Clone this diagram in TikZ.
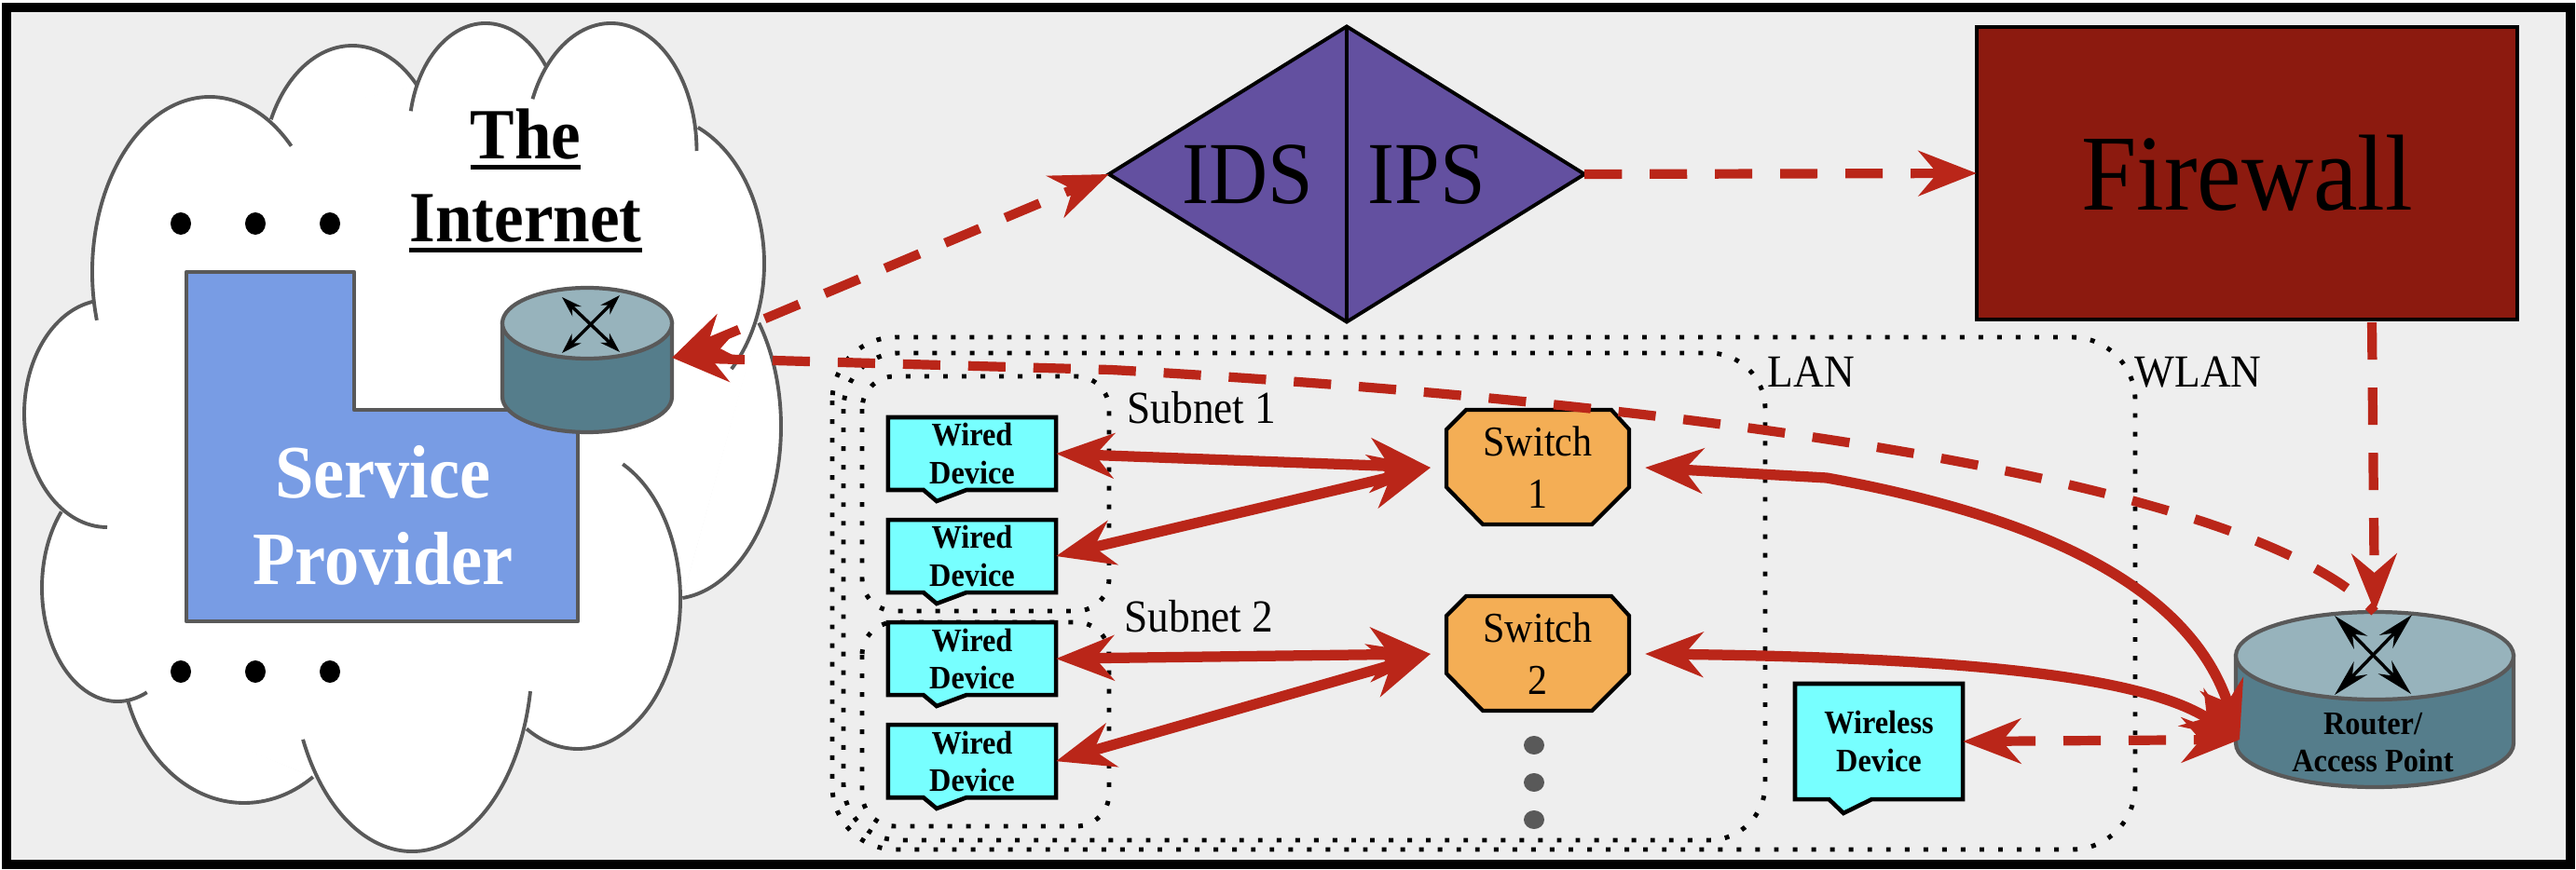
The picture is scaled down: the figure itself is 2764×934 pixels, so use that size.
\documentclass[tikz,border=0pt]{standalone}
\usepackage{fontspec}
\usepackage{tikz}
\usetikzlibrary{arrows.meta,positioning,shapes.geometric,shapes.callouts}
\setmainfont[FakeStretch=0.92]{Liberation Serif}
\newcommand{\ulin}[1]{\leavevmode\vtop{\hbox{#1}\kern1.6pt\hrule height 1.4pt}}
\definecolor{Backdrop}{HTML}{EEEEEE}
\definecolor{Outline}{HTML}{595959}
\definecolor{Brick}{HTML}{BA2619}
\definecolor{Sky}{HTML}{789CE4}
\definecolor{RouterTop}{HTML}{97B3BC}
\definecolor{RouterBody}{HTML}{557D8B}
\definecolor{Violet}{HTML}{6350A0}
\definecolor{Blood}{HTML}{8C1A0F}
\definecolor{Amber}{HTML}{F4AE55}
\definecolor{Aqua}{HTML}{77FFFF}
\tikzset{
  lobe/.style={draw=Outline, line width=1.1pt},
  zone/.style={draw=black, line width=1.4pt, dash pattern=on 1.4pt off 4.3pt},
  wired/.style={rectangle callout, draw=black, line width=1.3pt, fill=Aqua,
                align=center, minimum width=18mm, minimum height=7.8mm,
                inner sep=0pt, outer sep=0pt, callout pointer width=4.6mm,
                font=\fontsize{10}{11.4}\selectfont\bfseries},
  wireless/.style={wired, minimum width=18mm, minimum height=12.4mm},
  swtag/.style={align=center, inner sep=0pt, outer sep=0pt, minimum width=23mm,
                minimum height=12mm, font=\fontsize{13}{16}\selectfont},
  swbox/.style={draw=black, line width=1.2pt, fill=Amber},
  tag/.style={anchor=base west, inner sep=0pt, font=\fontsize{14}{16}\selectfont},
  routerline/.style={draw=Outline, line width=1.2pt},
  routerport/.style={inner sep=0pt, outer sep=0pt},
  arrow/.style={line width=2.9pt, draw=Brick},
  arrowfat/.style={line width=3.2pt, draw=Brick},
  arrowdash/.style={arrow, dash pattern=on 11.4pt off 8.5pt},
  cross/.style={<->, line width=1pt, draw=black},
  >={Stealth[length=6.2mm,width=4.8mm,inset=2mm]},
}
\begin{document}
\begin{tikzpicture}[x=0.01cm,y=-0.01cm,node distance=3.2mm]
  \useasboundingbox (0,0) rectangle (2764,934);
  \draw[draw=black, line width=2.7pt, fill=Backdrop] (7,8) rectangle (2758,928);

  \foreach \cx/\cy/\rx/\ry/\sa/\ea in {225/292/126/188/164/314, 378/190/97/141/206/316,
    521/144/82/119/192/322, 655.5/162/92/137/204/360, 700/283/120/160/294/405,
    720/458/118/185/323/444, 620/643/110/161/296/480, 442/706/129/208/10/155,
    262/699/132/163/56/161, 126/631/81/122/67/222, 115/444/89/122/90/260}
    \fill[white] ({\cx+\rx*cos(\sa)},{\cy+\ry*sin(\sa)})
      arc[start angle=\sa, end angle=\ea, x radius=\rx, y radius=\ry];
  \fill[white] (100,321) -- (291,127) -- (447,92) -- (586,72) -- (749,137) -- (814,349)
    -- (732,643) -- (565,783) -- (336,834) -- (137,754) -- (67,551) -- cycle;
  \foreach \cx/\cy/\rx/\ry/\sa/\ea in {225/292/126/188/164/314, 378/190/97/141/206/316,
    521/144/82/119/192/322, 655.5/162/92/137/204/360, 700/283/120/160/294/405,
    720/458/118/185/323/444, 620/643/110/161/296/480, 442/706/129/208/10/155,
    262/699/132/163/56/161, 126/631/81/122/67/222, 115/444/89/122/90/260}
    \draw[lobe] ({\cx+\rx*cos(\sa)},{\cy+\ry*sin(\sa)})
      arc[start angle=\sa, end angle=\ea, x radius=\rx, y radius=\ry];

  \foreach \x in {194,274,354}{
    \fill[black] (\x,240) circle[x radius=11, y radius=12];
    \fill[black] (\x,721) circle[x radius=11, y radius=12];
  }
  \node[align=center, inner sep=0pt, font=\fontsize{22}{25.3}\selectfont\bfseries] (internet) at (564,194) {\ulin{The}\\\ulin{Internet}};

  \draw[draw=Outline, line width=1.2pt, line join=round, fill=Sky] (200,292) -- (380,292) -- (380,440) -- (620,440) -- (620,667) -- (200,667) -- cycle;
  \node[align=center, inner sep=0pt, text=white, font=\fontsize{23}{26.5}\selectfont\bfseries] (provider) at (411,553) {Service\\Provider};

  \foreach \n/\cx/\ytop/\ylow/\rx/\ry/\ymid/\wid/\hgt in {1/630/347/426/91/38/384/18.2/15.2, 2/2548/704/798/149/47/752/29.8/19}{
    \draw[routerline, fill=RouterBody] (\cx-\rx,\ytop) -- (\cx-\rx,\ylow) arc[start angle=180, end angle=0, x radius=\rx, y radius=\ry] -- (\cx+\rx,\ytop) -- cycle;
    \draw[routerline, fill=RouterTop] (\cx,\ytop) circle[x radius=\rx, y radius=\ry];
    \node[routerport, minimum width=\wid mm, minimum height=\hgt mm] (router\n) at (\cx,\ymid) {};
  }
  \draw[cross, >={Stealth[length=2.2mm,width=1.4mm]}] (603,319) -- (665,378);
  \draw[cross, >={Stealth[length=2.2mm,width=1.4mm]}] (665,317) -- (603,379);

  \node[diamond, draw=black, line width=1.1pt, fill=Violet, inner sep=0pt, outer sep=0pt, aspect=1.609,
        minimum width=51mm, minimum height=31.7mm] (guard) at (1445,187) {};
  \draw[draw=black, line width=0.9pt] (guard.north) -- (guard.south);
  \node[inner sep=0pt, anchor=base, font=\fontsize{27}{30}\selectfont] (ids) at (1339,219) {IDS};
  \node[inner sep=0pt, anchor=base, font=\fontsize{27}{30}\selectfont] (ips) at (1531,219) {IPS};

  \node[draw=black, line width=1.2pt, fill=Blood, inner sep=0pt, outer sep=0pt, minimum width=58mm,
        minimum height=31.4mm, font=\fontsize{33}{38}\selectfont] (firewall) at (2411,186) {\raisebox{-1pt}{Firewall}};

  \draw[zone, rounded corners=6.8mm] (893,362) rectangle (2291,912);
  \draw[zone, rounded corners=6mm] (905,379) rectangle (1894,902);
  \draw[zone, rounded corners=3.5mm] (925,404) rectangle (1190,656);
  \draw[zone, rounded corners=3.5mm] (925,668) rectangle (1190,887);
  \node[tag] (subnet1) at (1209,455) {Subnet 1};
  \node[tag] (subnet2) at (1206,679) {Subnet 2};
  \node[tag] (lan) at (1896,416) {LAN};
  \node[tag] (wlan) at (2290,416) {WLAN};

  \node[wired, callout absolute pointer={(1005,538)}] (wired1) at (1043,487) {Wired\\Device};
  \node[wired, callout absolute pointer={(1005,648)}, below=of wired1] (wired2) {\raisebox{-1.3pt}{Wired}\\\raisebox{-1.5pt}{Device}};
  \node[wired, callout absolute pointer={(1005,758)}, below=of wired2] (wired3) {Wired\\Device};
  \node[wired, callout absolute pointer={(1005,868)}, below=of wired3] (wired4) {Wired\\Device};
  \node[wireless, callout absolute pointer={(1978,873)}] (wireless) at (2016,796) {Wireless\\Device};

  \foreach \n/\y in {1/0,2/200}{
    \draw[swbox] (1552,461+\y) -- (1573,440+\y) -- (1729,440+\y) -- (1748,461+\y) -- (1748,523+\y) -- (1708,563+\y) -- (1591,563+\y) -- (1552,523+\y) -- cycle;
    \node[swtag] (switch\n) at (1650,502+\y) {Switch\\\n};
  }
  \foreach \y in {800,840,880}
    \fill[Outline] (1646,\y) circle[x radius=11, y radius=10];

  \node[align=center, inner sep=0pt, font=\fontsize{10}{11.4}\selectfont\bfseries] (routertag) at (2546,797) {Router/\\Access Point};
  \draw[cross, >={Stealth[length=4mm,width=2mm]}] (2505,661) -- (2587,745);
  \draw[cross, >={Stealth[length=4mm,width=2mm]}] (2588,660) -- (2505,746);

  \coordinate (port) at (2403,794);
  \coordinate (knee) at (1960,513);
  \coordinate (elbow) at (1192,397);
  \draw[arrowfat,<-{Stealth[length=6.4mm,width=5.8mm,inset=2mm]}] (wired1.east) -- (switch1.west);
  \draw[arrowfat,<-{Stealth[length=6.4mm,width=5.8mm,inset=2mm]}] (wired2.east) -- (switch1.west);
  \draw[arrowfat,<-{Stealth[length=6.4mm,width=5.8mm,inset=2mm]}] (wired3.east) -- (switch2.west);
  \draw[arrowfat,<-{Stealth[length=6.4mm,width=5.8mm,inset=2mm]}] (wired4.east) -- (switch2.west);
  \draw[arrowfat,<->] (switch1.east) -- (knee) .. controls (2190,555) and (2350,630) .. (port);
  \draw[arrowfat,<->] (switch2.east) .. controls (2100,706) and (2300,725) .. (port);
  \draw[arrowdash,<->] (wireless.east) -- (port);
  \draw[arrowdash,<->] (router1.east) -- (guard.west);
  \draw[arrowdash,->] (guard.east) -- (firewall.west);
  \draw[arrowdash,<-] (router1.east) -- (elbow) .. controls (1700,425) and (2400,500) .. (router2.north);
  \draw[arrowdash,->] (firewall.south) ++(134,3) -- (router2.north);
\end{tikzpicture}
\end{document}
